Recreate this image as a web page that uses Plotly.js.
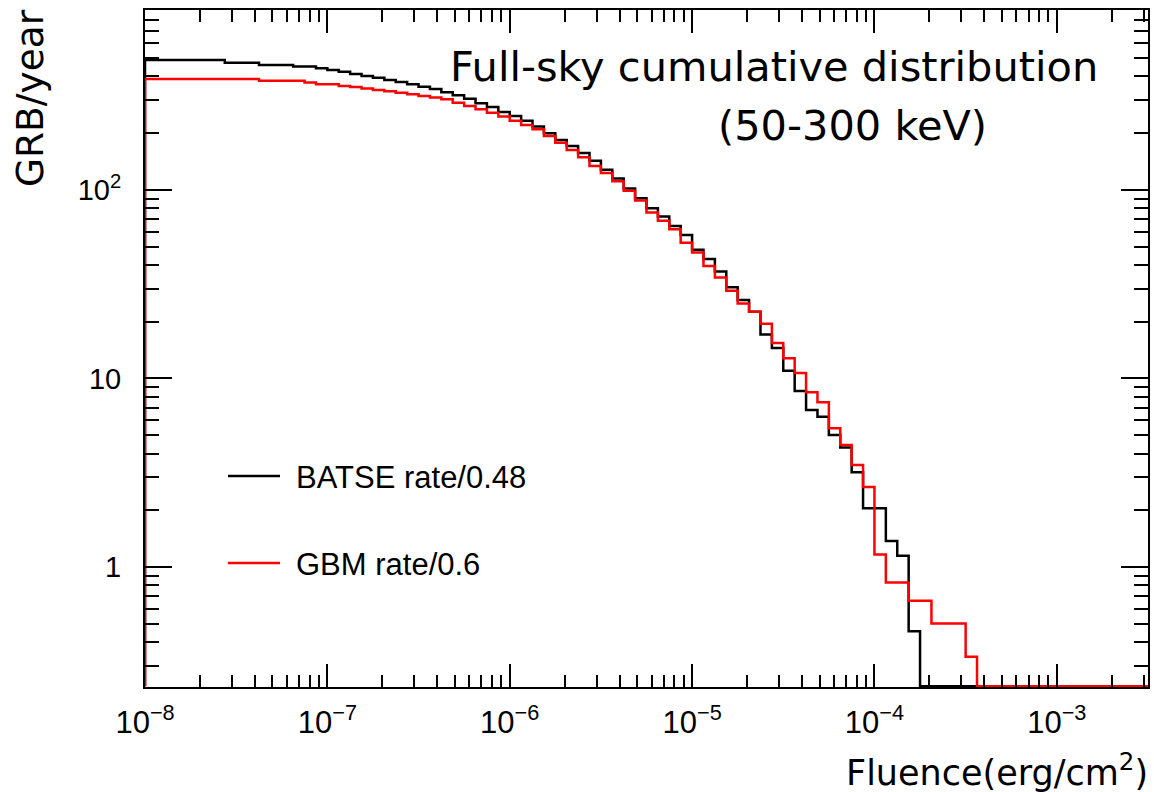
<!DOCTYPE html>
<html>
<head>
<meta charset="utf-8">
<script src="https://cdn.plot.ly/plotly-3.0.1.min.js"></script>
<style>html,body{margin:0;padding:0;background:#fff;}#chart{width:1154px;height:792px;}</style>
</head>
<body>
<div id="chart"></div>
<script>
// Histogram binning (log10 of fluence): 16 bins per decade from 1e-8
const logXMin = -8;
const binsPerDecade = 16;
const nBins = 88;

// BATSE rate/0.48 cumulative GRB/year per bin
const batse = [489,489,489,489,489,489,489,473,473,473,460,460,460,451,451,
  442,433,423,412,402,393,383,374,364,353,343,330,318,304,288,275,259,247,233,217,
  200,184,171,157,143,128,115,101.6,90.3,80,72.2,64.4,57.7,48.1,43,36.9,30.5,26.1,22.6,
  17.1,14.5,11.0,8.59,6.81,6.27,5.01,4.31,3.18,2.05,2.05,1.375,1.148,0.457,
  0,0,0,0,0,0,0,0,0,0,0,0,0,0,0,0,0,0,0,0];

// GBM rate/0.6 cumulative GRB/year per bin
const gbm = [387,387,387,387,387,387,387,387,387,387,379,379,379,379,371,364,364,
  356,351,345,339,334,328,322,315,309,303,290,279,268,257,245,233,221,210,193,178,163,
  149,134,123,111,99,88,75.8,68.7,61.9,52.5,46.5,39.5,34.3,29.2,25.0,22.6,19.5,15.4,
  12.8,10.7,8.45,7.48,5.44,4.44,3.48,2.66,1.165,0.827,0.827,0.663,0.663,0.502,0.502,0.502,0.334,
  0,0,0,0,0,0,0,0,0,0,0,0,0,0,0];

const xTickVals = [1e-8,1e-7,1e-6,1e-5,1e-4,1e-3];
const xTickText = ['10<sup>−8</sup>','10<sup>−7</sup>','10<sup>−6</sup>','10<sup>−5</sup>','10<sup>−4</sup>','10<sup>−3</sup>'];
const yTickVals = [1,10,100];
const yTickText = ['1','10','10<sup>2</sup>'];

const seriesNames = ['BATSE rate/0.48','GBM rate/0.6'];
const seriesColors = ['#000000','#ff0000'];

const xRange = [-8, -2.5];
const yRange = [Math.log10(0.231), Math.log10(900)];
const yFloor = Math.pow(10, yRange[0] + 0.004);

function edge(i){ return Math.pow(10, logXMin + i/binsPerDecade); }
function stepTrace(vals, name, color){
  const xs=[edge(0)], ys=[yFloor];
  for(let i=0;i<vals.length;i++){
    const v = vals[i] > 0 ? vals[i] : yFloor;
    xs.push(edge(i), edge(i+1)); ys.push(v, v);
  }
  xs.push(edge(vals.length)); ys.push(yFloor);
  return {x:xs, y:ys, type:'scatter', mode:'lines', name:name,
    line:{color:color, width:2.5, shape:'linear'}, showlegend:false, hoverinfo:'skip'};
}

function minorVals(lo, hi){
  const out=[];
  for(let d=lo; d<=hi; d++){ for(let k=2;k<=9;k++){ out.push(k*Math.pow(10,d)); } }
  return out;
}

const traces = [stepTrace(batse, seriesNames[0], seriesColors[0]),
                stepTrace(gbm, seriesNames[1], seriesColors[1])];

const W=1154, H=792, L=145, R=6, T=10, B=105;
const pw = W-L-R, ph = H-T-B;
function px2x(px){ return (px-L)/pw; }
function py2y(py){ return (H-B-py)/ph; }

const xTickFont = {family:'Liberation Sans, Arial, sans-serif', size:31, color:'#000'};
const yTickFont = {family:'Liberation Sans, Arial, sans-serif', size:29, color:'#000'};
const titleFont = {family:'DejaVu Sans, sans-serif', size:41.5, color:'#000'};
const axTitleFont = {family:'DejaVu Sans, sans-serif', size:35, color:'#000'};
const yTitleFont = {family:'DejaVu Sans, sans-serif', size:37.5, color:'#000'};
const legFont = {family:'Liberation Sans, Arial, sans-serif', size:31, color:'#000'};

const layout = {
  width:W, height:H,
  margin:{l:L, r:R, t:T, b:B, pad:0},
  paper_bgcolor:'#fff', plot_bgcolor:'#fff',
  showlegend:false,
  xaxis:{type:'log', range:xRange, showline:true, linewidth:2, linecolor:'#000', mirror:'allticks',
    ticks:'inside', ticklen:23, tickwidth:2, tickcolor:'#000',
    tickmode:'array', tickvals:xTickVals, ticktext:xTickText, tickfont:xTickFont,
    ticklabelstandoff:7,
    minor:{ticks:'inside', ticklen:12, tickwidth:2, tickcolor:'#000', tickmode:'array', tickvals:minorVals(-8,-3), showgrid:false},
    showgrid:false, zeroline:false},
  yaxis:{type:'log', range:yRange, showline:true, linewidth:2, linecolor:'#000', mirror:'allticks',
    ticks:'inside', ticklen:27, tickwidth:2, tickcolor:'#000',
    tickmode:'array', tickvals:yTickVals, ticktext:yTickText, tickfont:yTickFont,
    ticklabelstandoff:16,
    minor:{ticks:'inside', ticklen:14, tickwidth:2, tickcolor:'#000', tickmode:'array', tickvals:minorVals(-1,2), showgrid:false},
    showgrid:false, zeroline:false},
  shapes:[
    {type:'line', xref:'paper', yref:'paper', x0:px2x(228), x1:px2x(280), y0:py2y(476), y1:py2y(476), line:{color:seriesColors[0], width:2.5}},
    {type:'line', xref:'paper', yref:'paper', x0:px2x(228), x1:px2x(280), y0:py2y(563), y1:py2y(563), line:{color:seriesColors[1], width:2.5}}
  ],
  annotations:[
    {text:'Full-sky cumulative distribution', xref:'paper', yref:'paper', x:px2x(448), y:py2y(66), xanchor:'left', yanchor:'middle', showarrow:false, font:titleFont},
    {text:'(50-300 keV)', xref:'paper', yref:'paper', x:px2x(716), y:py2y(125), xanchor:'left', yanchor:'middle', showarrow:false, font:titleFont},
    {text:'GRB/year', xref:'paper', yref:'paper', x:px2x(30), y:py2y(7), xanchor:'center', yanchor:'top', textangle:-90, showarrow:false, font:yTitleFont},
    {text:'Fluence(erg/cm<sup>2</sup>)', xref:'paper', yref:'paper', x:px2x(1150), y:py2y(770), xanchor:'right', yanchor:'middle', showarrow:false, font:axTitleFont},
    {text:seriesNames[0], xref:'paper', yref:'paper', x:px2x(294), y:py2y(477), xanchor:'left', yanchor:'middle', showarrow:false, font:legFont},
    {text:seriesNames[1], xref:'paper', yref:'paper', x:px2x(294), y:py2y(564), xanchor:'left', yanchor:'middle', showarrow:false, font:legFont}
  ]
};

Plotly.newPlot('chart', traces, layout, {displayModeBar:false, staticPlot:true});
</script>
</body>
</html>
